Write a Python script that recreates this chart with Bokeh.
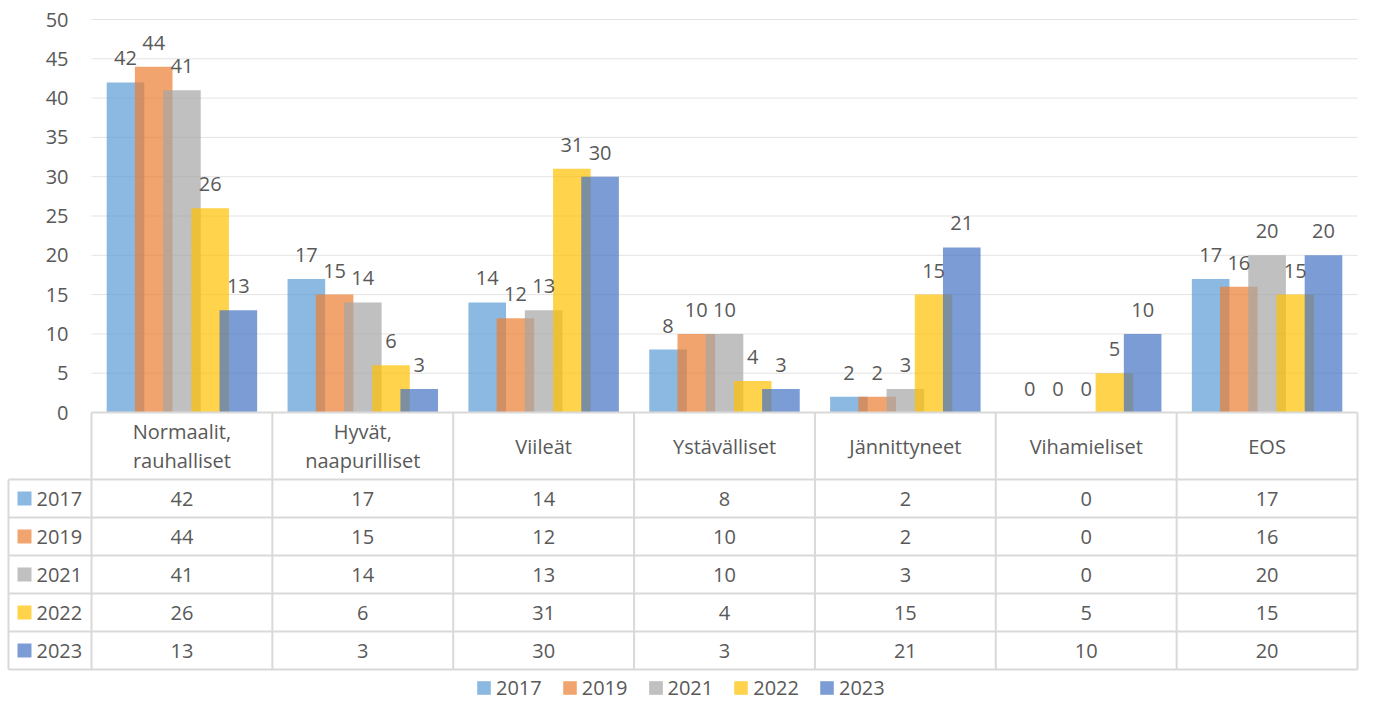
from bokeh.plotting import figure
from bokeh.models import Range1d, FixedTicker, Legend, LegendItem, LinearAxis
from bokeh.embed import file_html
from bokeh.resources import INLINE
from bokeh.core.properties import value

# ---------------- data ----------------
categories = ["Normaalit,\nrauhalliset", "Hyvät,\nnaapurilliset", "Viileät", "Ystävälliset",
              "Jännittyneet", "Vihamieliset", "EOS"]
years = ["2017", "2019", "2021", "2022", "2023"]
v2017 = [42, 17, 14, 8, 2, 0, 17]
v2019 = [44, 15, 12, 10, 2, 0, 16]
v2021 = [41, 14, 13, 10, 3, 0, 20]
v2022 = [26, 6, 31, 4, 15, 5, 15]
v2023 = [13, 3, 30, 3, 21, 10, 20]
y_ticks = [0, 5, 10, 15, 20, 25, 30, 35, 40, 45, 50]

series = [v2017, v2019, v2021, v2022, v2023]
colors = ["#5B9BD5", "#ED7D31", "#A5A5A5", "#FFC000", "#4472C4"]
ALPHA = 0.7
TXT = "#595959"
LINE = "#D9D9D9"
GRID = "#E3E3E3"
FONT = "Open Sans"
FS = "20px"

# ---------------- layout constants (px) ----------------
W, H = 1359, 703
N = len(categories)
PLOT_L, PLOT_R = 91, 1357          # category area
PLOT_T, ZERO_Y = 19, 412           # value 50 / value 0
unit = (PLOT_R - PLOT_L) / N
px_per_val = (ZERO_Y - PLOT_T) / (y_ticks[-1] - y_ticks[0])
x_start = -PLOT_L / unit
x_end = x_start + W / unit
y_end = ZERO_Y / px_per_val
y_start = -(H - ZERO_Y) / px_per_val

HEADER_TOP, HEADER_BOTTOM, ROW_H = 412, 479, 38
COL_LEFT = 8
BAR_W = 0.208
STEP = 0.156

p = figure(width=W, height=H, x_range=Range1d(x_start, x_end), y_range=Range1d(y_start, y_end),
           output_backend="svg", toolbar_location=None, x_axis_location=None, y_axis_location=None,
           min_border=0, min_border_left=0, min_border_right=0, min_border_top=0, min_border_bottom=0,
           background_fill_color="white", border_fill_color="white")
p.outline_line_color = None
p.grid.visible = False
p.extra_y_ranges = {"tbl": Range1d(H, 0)}

# value axis, drawn at the left edge of the category area
ax = LinearAxis(ticker=FixedTicker(ticks=y_ticks), fixed_location=0)
ax.axis_line_color = None
ax.major_tick_line_color = None
ax.minor_tick_line_color = None
ax.major_tick_out = 0
ax.major_tick_in = 0
ax.major_label_standoff = 23
ax.major_label_text_font = FONT
ax.major_label_text_font_size = FS
ax.major_label_text_color = TXT
p.add_layout(ax, "left")

# horizontal gridlines
p.segment(x0=[0] * len(y_ticks), x1=[N] * len(y_ticks), y0=y_ticks, y1=y_ticks,
          line_color=GRID, line_width=1)

# bars
for k, (vals, c) in enumerate(zip(series, colors)):
    xs = [i + 0.5 + (k - 2) * STEP for i in range(N)]
    p.vbar(x=xs, top=vals, bottom=0, width=BAR_W, fill_color=c, fill_alpha=ALPHA, line_color=None)
# data labels
for k, vals in enumerate(series):
    xs = [i + 0.5 + (k - 2) * STEP for i in range(N)]
    p.text(x=xs, y=vals, text=[str(v) for v in vals], text_align="center",
           text_baseline="alphabetic", y_offset=-24, text_font=value(FONT),
           text_font_size=FS, text_color=TXT)

# ---------------- data table ----------------
n_rows = len(years)
table_bottom = HEADER_BOTTOM + ROW_H * n_rows
x_col = x_start + COL_LEFT / unit
# top line
p.segment(x0=[0], x1=[N], y0=[HEADER_TOP], y1=[HEADER_TOP], line_color=LINE, line_width=2,
          y_range_name="tbl")
# vertical lines in category part
p.segment(x0=list(range(N + 1)), x1=list(range(N + 1)), y0=[HEADER_TOP] * (N + 1),
          y1=[table_bottom] * (N + 1), line_color=LINE, line_width=2, y_range_name="tbl")
# left border of the series-name column
p.segment(x0=[x_col], x1=[x_col], y0=[HEADER_BOTTOM], y1=[table_bottom], line_color=LINE,
          line_width=2, y_range_name="tbl")
# horizontal lines
hy = [HEADER_BOTTOM + ROW_H * j for j in range(n_rows + 1)]
p.segment(x0=[x_col] * len(hy), x1=[N] * len(hy), y0=hy, y1=hy, line_color=LINE, line_width=2,
          y_range_name="tbl")

# category names
p.text(x=[i + 0.5 for i in range(N)], y=[(HEADER_TOP + HEADER_BOTTOM) / 2] * N, text=categories,
       text_align="center", text_baseline="middle", text_line_height=1.08,
       text_font=value(FONT), text_font_size=FS, text_color=TXT, y_range_name="tbl")

legend_items = []
for k, (yr, vals, c) in enumerate(zip(years, series, colors)):
    yc = HEADER_BOTTOM + ROW_H * (k + 0.5)
    p.text(x=[i + 0.5 for i in range(N)], y=[yc] * N, text=[str(v) for v in vals],
           text_align="center", text_baseline="middle",
           text_font=value(FONT), text_font_size=FS, text_color=TXT, y_range_name="tbl")
    r = p.rect(x=[x_start + 24 / unit], y=[yc], width=14, height=14, width_units="screen",
               height_units="screen", fill_color=c, fill_alpha=ALPHA, line_color=None,
               y_range_name="tbl")
    p.text(x=[x_start + 36 / unit], y=[yc], text=[yr], text_align="left", text_baseline="middle",
           text_font=value(FONT), text_font_size=FS, text_color=TXT, y_range_name="tbl")
    legend_items.append(LegendItem(label=yr, renderers=[r]))

legend = Legend(items=legend_items, orientation="horizontal", location=(475, 2),
                glyph_width=17, glyph_height=17, label_standoff=4, spacing=19,
                padding=0, margin=0, border_line_alpha=0, background_fill_alpha=0,
                label_text_font=FONT, label_text_font_size=FS, label_text_color=TXT)
p.add_layout(legend)

open("out.html", "w").write(file_html(p, INLINE))
